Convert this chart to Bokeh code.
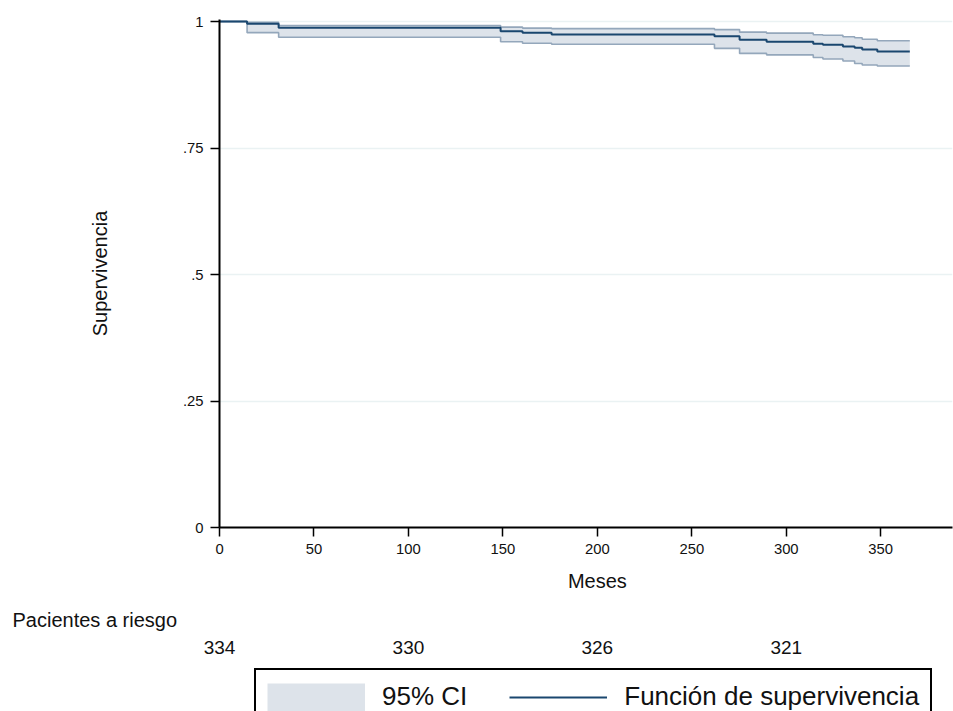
from bokeh.plotting import figure
from bokeh.layouts import column
from bokeh.models import Range1d, FixedTicker, Label, Legend, LegendItem
from bokeh.embed import file_html
from bokeh.resources import INLINE

# Kaplan-Meier estimate
times = [0, 14.6, 31.3, 148.8, 160.4, 175.8, 262.0, 275.3, 289.6, 314.3, 319.4, 330.0, 336.2, 340.2, 348.2, 365.4]
surv  = [1.0, 0.9955, 0.9875, 0.981, 0.978, 0.9745, 0.971, 0.964, 0.960, 0.956, 0.954, 0.9506, 0.948, 0.9447, 0.941, 0.941]
upper = [1.0, 0.9986, 0.992, 0.989, 0.987, 0.986, 0.984, 0.979, 0.977, 0.974, 0.973, 0.970, 0.968, 0.965, 0.962, 0.962]
lower = [1.0, 0.978, 0.969, 0.960, 0.957, 0.955, 0.947, 0.937, 0.934, 0.929, 0.926, 0.922, 0.917, 0.914, 0.912, 0.912]

# At-risk table
risk_times = [0, 100, 200, 300]
risk_counts = [334, 330, 326, 321]

x_ticks = [0, 50, 100, 150, 200, 250, 300, 350]
y_ticks = [0, 0.25, 0.5, 0.75, 1]
y_tick_labels = {0: "0", 0.25: ".25", 0.5: ".5", 0.75: ".75", 1: "1"}

FONT = "Liberation Sans"
TXT = "#111111"
BAND_FILL = "#dde3ea"
BAND_EDGE = "#94a7bb"
KM_COLOR = "#1a476f"

W, H = 953, 711
LEFT, TOP, RIGHT = 219, 19, 1
MAIN_H = 565
AXIS_BOTTOM = 527
X_MAX = 388

p = figure(width=W, height=MAIN_H, x_range=Range1d(0, X_MAX), y_range=Range1d(0, 1.004),
           output_backend="svg", toolbar_location=None,
           min_border_left=LEFT, min_border_right=RIGHT, min_border_top=TOP,
           min_border_bottom=MAIN_H - AXIS_BOTTOM)
p.frame_align = False
p.outline_line_color = None
p.xgrid.visible = False
p.ygrid.grid_line_color = "#eaf2f3"
p.ygrid.grid_line_width = 1.5

p.xaxis.ticker = FixedTicker(ticks=x_ticks)
p.yaxis.ticker = FixedTicker(ticks=y_ticks)
p.yaxis.major_label_overrides = y_tick_labels
for ax in (p.xaxis[0], p.yaxis[0]):
    ax.axis_line_color = "black"
    ax.axis_line_width = 2
    ax.major_tick_line_color = "black"
    ax.major_tick_line_width = 1.5
    ax.major_tick_out = 9
    ax.major_tick_in = 0
    ax.minor_tick_line_color = None
    ax.major_label_text_font = FONT
    ax.major_label_text_font_size = "14.8px"
    ax.major_label_text_color = TXT
    ax.major_label_standoff = 7
    ax.axis_label_text_font = FONT
    ax.axis_label_text_font_size = "20px"
    ax.axis_label_text_font_style = "normal"
    ax.axis_label_text_color = TXT

p.yaxis.axis_label = "Supervivencia"
p.yaxis.axis_label_standoff = 69

p.varea_step(x=times, y1=lower, y2=upper, step_mode="after", fill_color=BAND_FILL, fill_alpha=1.0)
p.step(times, upper, mode="after", line_color=BAND_EDGE, line_width=1.6)
p.step(times, lower, mode="after", line_color=BAND_EDGE, line_width=1.6)
p.step(times, surv, mode="after", line_color=KM_COLOR, line_width=2)

# Lower panel: x title, at-risk table and legend (same x scale as the plot)
k = (W - LEFT - RIGHT) / X_MAX          # pixels per month
x0 = -LEFT / k
q = figure(width=W, height=H - MAIN_H, x_range=Range1d(x0, x0 + W / k),
           y_range=Range1d(0, H - MAIN_H), output_backend="svg", toolbar_location=None,
           min_border=0, min_border_left=0, min_border_right=0, min_border_top=0,
           min_border_bottom=0, x_axis_location=None, y_axis_location=None)
q.frame_align = False
q.outline_line_color = None
q.grid.visible = False

def ypix(screen_y):
    return H - screen_y

q.add_layout(Label(x=200, y=ypix(580), text="Meses",
                   text_font=FONT, text_font_size="20px", text_color=TXT,
                   text_align="center", text_baseline="middle"))
q.add_layout(Label(x=x0 + 12 / k, y=ypix(619), text="Pacientes a riesgo",
                   text_font=FONT, text_font_size="20px", text_color=TXT,
                   text_align="left", text_baseline="middle"))
for t, n in zip(risk_times, risk_counts):
    q.add_layout(Label(x=t, y=ypix(647), text=str(n),
                       text_font=FONT, text_font_size="19px", text_color=TXT,
                       text_align="center", text_baseline="middle"))

# Legend keys (not drawn in the frame; only used for the legend glyphs)
nan = float("nan")
band_key = q.line(x=[nan, nan], y=[nan, nan], line_color=BAND_FILL, line_width=28, line_cap="butt")
km_key = q.line(x=[nan, nan], y=[nan, nan], line_color=KM_COLOR, line_width=2)
legend = Legend(items=[LegendItem(label="95% CI", renderers=[band_key]),
                       LegendItem(label="Función de supervivencia", renderers=[km_key])],
                location=(254, -14), orientation="horizontal",
                glyph_width=98, glyph_height=28, label_standoff=17, spacing=42,
                padding=11, margin=0,
                label_text_font=FONT, label_text_font_size="26px", label_text_color=TXT,
                border_line_color="black", border_line_width=2, border_line_alpha=1.0,
                background_fill_color="white", background_fill_alpha=1.0)
q.add_layout(legend)

open("out.html", "w").write(file_html(column(p, q, spacing=0), INLINE))
